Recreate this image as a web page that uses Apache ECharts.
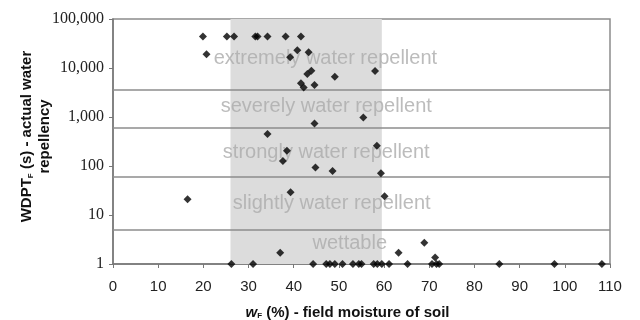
<!DOCTYPE html>
<html>
<head>
<meta charset="utf-8">
<script src="https://cdn.jsdelivr.net/npm/echarts@6/dist/echarts.min.js"></script>
<style>
  html, body { margin: 0; padding: 0; background: #fff; }
  #chart { width: 640px; height: 320px; }
</style>
</head>
<body>
<div id="chart"></div>
<script>
// field moisture (%) and WDPT (s)
const moisture = [
  19.9, 25.2, 26.8, 31.5, 32.0, 34.2, 38.2, 41.6,
  20.7, 40.8, 43.3, 39.2, 43.0, 43.9, 41.6, 42.2, 44.6, 49.1, 58.0,
  55.4, 44.6, 34.2, 38.5, 37.6, 44.8, 58.4, 48.6, 59.3, 39.3, 60.1, 16.5,
  37.0, 63.2, 68.9, 71.3,
  26.2, 31.0, 44.3, 47.2, 48.0, 49.1, 50.8, 53.1, 54.4, 55.0, 57.7, 58.5,
  59.5, 61.1, 65.2, 70.6, 71.6, 72.2, 85.5, 97.7, 108.2
];
const wdpt = [
  44000, 44000, 44000, 44000, 44000, 44000, 44000, 44000,
  19000, 23000, 21000, 16500, 7500, 8800, 4900, 4000, 4500, 6600, 8700,
  980, 740, 450, 204, 126, 93, 260, 79, 71, 29, 24, 21,
  1.7, 1.7, 2.7, 1.35,
  1, 1, 1, 1, 1, 1, 1, 1, 1, 1, 1, 1,
  1, 1, 1, 1, 1, 1, 1, 1, 1
];

// repellency class limits (s)
const classLimits = [3600, 600, 60, 5];
// class names and where their labels sit
const classNames = ['extremely water repellent', 'severely water repellent', 'strongly water repellent', 'slightly water repellent', 'wettable'];
const classLabelX = [47.0, 47.2, 47.2, 48.4, 52.4];
const classLabelY = [16000, 1660, 193, 17, 2.6];

// shaded moisture range
const bandRange = [26, 59.5];

const yTicks = [1, 10, 100, 1000, 10000, 100000];
const yTickLabels = ['1', '10', '100', '1,000', '10,000', '100,000'];

const chart = echarts.init(document.getElementById('chart'));

const titleFont = { fontFamily: 'Liberation Sans', fontWeight: 'bold', fontSize: 15, color: '#111' };

const option = {
  animation: false,
  grid: {
    left: 113, right: 30, top: 19, bottom: 56,
    outerBoundsMode: 'none',
    containLabel: false,
    show: true,
    borderColor: '#8c8c8c',
    borderWidth: 1.5
  },
  xAxis: {
    type: 'value',
    min: 0,
    max: 110,
    interval: 10,
    name: '{i|w}{sub|F}{b| (%) - field moisture of soil}',
    nameLocation: 'middle',
    nameGap: 41,
    nameMoveOverlap: false,
    nameTextStyle: {
      padding: [0, 28, 0, 0],
      rich: {
        i: { ...titleFont, fontStyle: 'italic' },
        sub: { ...titleFont, fontSize: 8, padding: [7, 0, 0, 0] },
        b: titleFont
      }
    },
    axisLine: { lineStyle: { color: '#777', width: 1.5 } },
    axisTick: { show: true, length: 4, inside: false, lineStyle: { color: '#777' } },
    axisLabel: { color: '#222', fontFamily: 'Liberation Sans', fontSize: 15, margin: 15 },
    splitLine: { show: false }
  },
  yAxis: {
    type: 'log',
    logBase: 10,
    min: 1,
    max: 100000,
    name: '{b|WDPT}{sub|F}{b| (s) - actual water}\n{b|repellency}',
    nameLocation: 'middle',
    nameRotate: 90,
    nameGap: 59,
    nameMoveOverlap: false,
    nameTextStyle: {
      lineHeight: 18,
      padding: [0, 0, 0, 10],
      rich: {
        b: { ...titleFont, lineHeight: 18 },
        sub: { ...titleFont, fontSize: 8, padding: [7, 0, 0, 0] }
      }
    },
    axisLine: { show: true, lineStyle: { color: '#777', width: 1.5 } },
    axisTick: { show: true, length: 4, lineStyle: { color: '#777' } },
    axisLabel: {
      color: '#222',
      fontFamily: 'Liberation Serif',
      fontSize: 16,
      margin: 9,
      formatter: (v) => {
        const i = yTicks.findIndex((t) => Math.abs(t - v) / t < 1e-6);
        return i >= 0 ? yTickLabels[i] : '';
      }
    },
    splitLine: { show: false }
  },
  series: [
    {
      type: 'scatter',
      silent: true,
      data: [],
      markArea: {
        silent: true,
        itemStyle: { color: '#dcdcdc' },
        data: [[{ xAxis: bandRange[0], yAxis: 1 }, { xAxis: bandRange[1], yAxis: 100000 }]]
      },
      markLine: {
        silent: true,
        symbol: 'none',
        label: { show: false },
        lineStyle: { color: '#8c8c8c', width: 1.5, type: 'solid' },
        data: classLimits.map((v) => ({ yAxis: v }))
      },
      z: 1
    },
    {
      type: 'scatter',
      silent: true,
      symbolSize: 0,
      data: classNames.map((n, i) => ({ value: [classLabelX[i], classLabelY[i]], name: n })),
      label: {
        show: true,
        position: 'inside',
        formatter: (p) => p.name,
        fontFamily: 'Liberation Sans',
        fontSize: 20,
        color: '#ababab'
      },
      z: 2
    },
    {
      type: 'scatter',
      symbol: 'diamond',
      symbolSize: 8,
      itemStyle: { color: '#000' },
      data: moisture.map((x, i) => [x, wdpt[i]]),
      z: 5
    }
  ]
};

chart.setOption(option);
</script>
</body>
</html>
